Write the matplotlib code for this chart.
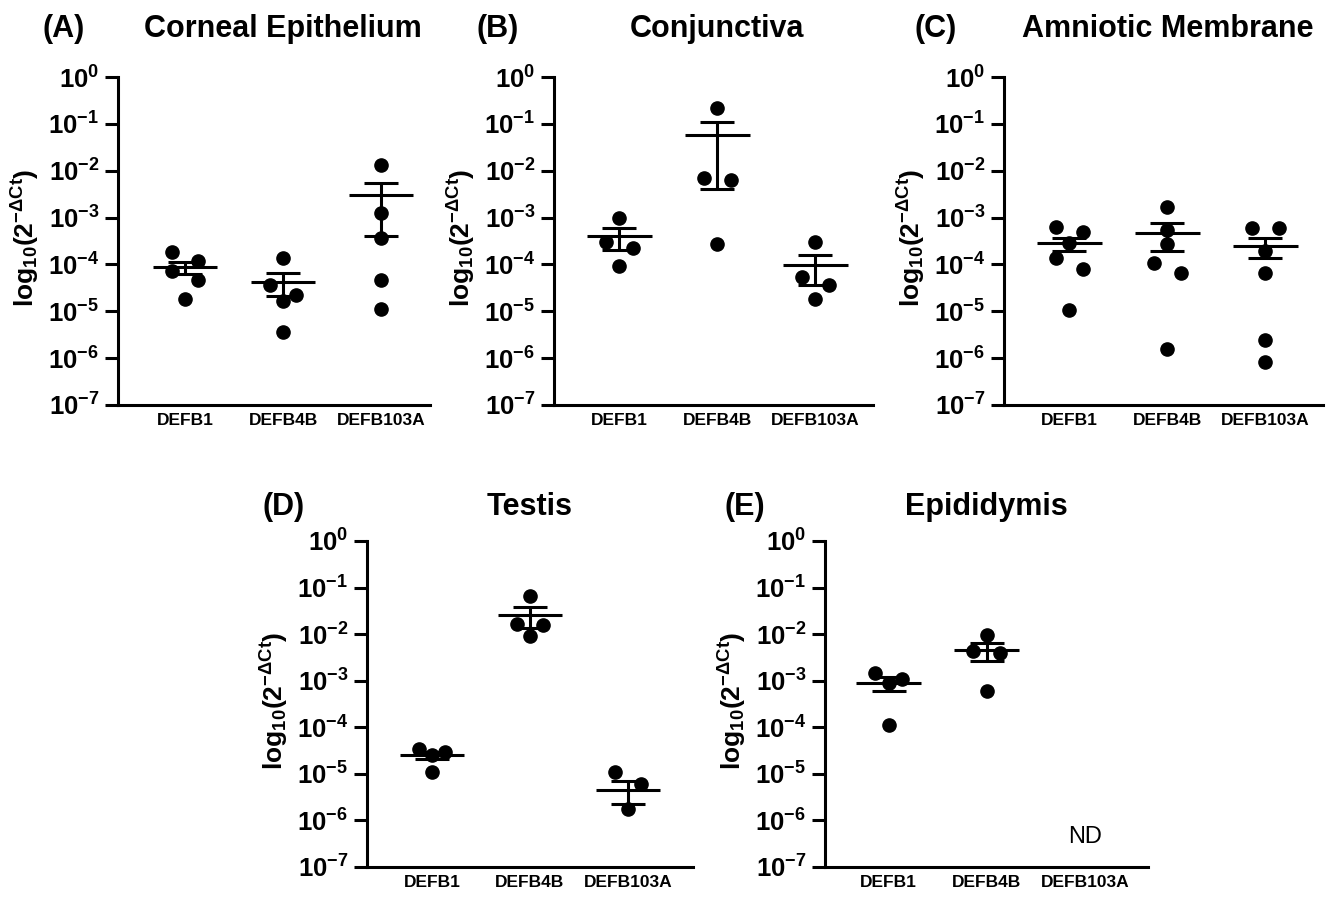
import numpy as np
import matplotlib
matplotlib.use("Agg")
from matplotlib import pyplot as plt
from matplotlib import transforms
from matplotlib.ticker import FixedLocator, FixedFormatter, NullLocator

plt.rcParams['font.family'] = ['Liberation Sans', 'DejaVu Sans']
plt.rcParams['mathtext.fontset'] = 'custom'
plt.rcParams['mathtext.rm'] = 'Liberation Sans'
plt.rcParams['mathtext.bf'] = 'Liberation Sans:bold'
plt.rcParams['mathtext.it'] = 'Liberation Sans:italic'

genes = ["DEFB1", "DEFB4B", "DEFB103A"]

# (A) Corneal Epithelium - 2^-dCt per donor
cornea_pts = [[1.86e-4, 1.2e-4, 7.4e-5, 4.7e-5, 1.85e-5],
              [1.36e-4, 3.7e-5, 2.24e-5, 1.66e-5, 3.6e-6],
              [1.33e-2, 1.24e-3, 3.6e-4, 4.7e-5, 1.13e-5]]
cornea_mean = [8.8e-5, 4.3e-5, 3.0e-3]
cornea_sem = [2.4e-5, 2.2e-5, 2.6e-3]

# (B) Conjunctiva
conj_pts = [[9.8e-4, 2.94e-4, 2.2e-4, 9.1e-5],
            [0.215, 6.9e-3, 6.3e-3, 2.7e-4],
            [2.94e-4, 5.3e-5, 3.7e-5, 1.85e-5]]
conj_mean = [3.96e-4, 0.058, 9.8e-5]
conj_sem = [1.9e-4, 0.054, 6.2e-5]

# (C) Amniotic Membrane
amnio_pts = [[6.2e-4, 4.9e-4, 2.8e-4, 1.35e-4, 7.9e-5, 1.07e-5],
             [1.66e-3, 5.5e-4, 2.7e-4, 1.07e-4, 6.5e-5, 1.6e-6],
             [6.1e-4, 6.1e-4, 1.9e-4, 6.5e-5, 2.46e-6, 8.1e-7]]
amnio_mean = [2.8e-4, 4.7e-4, 2.5e-4]
amnio_sem = [9e-5, 2.8e-4, 1.15e-4]

# (D) Testis
testis_pts = [[3.5e-5, 2.95e-5, 2.5e-5, 1.07e-5],
              [0.065, 0.0162, 0.0155, 9.1e-3],
              [1.1e-5, 6.2e-6, 1.78e-6]]
testis_mean = [2.5e-5, 0.026, 4.6e-6]
testis_sem = [4.5e-6, 0.0125, 2.4e-6]

# (E) Epididymis - DEFB103A not detected
epi_pts = [[1.47e-3, 1.1e-3, 9.1e-4, 1.14e-4],
           [9.4e-3, 4.3e-3, 3.95e-3, 6.0e-4],
           []]
epi_mean = [9.0e-4, 4.5e-3, None]
epi_sem = [2.9e-4, 1.8e-3, None]

decades = list(range(-7, 1))

W, H = 1339, 899
fig = plt.figure(figsize=(W / 100, H / 100), dpi=100, facecolor='white')


def row_offsets(vals, thr=0.3, step=0.135):
    # prism-like spreading: points closer than a marker in log-space share a row
    logs = np.log10(vals)
    order = np.argsort(-logs, kind='stable')
    offs = np.zeros(len(vals))
    patterns = {1: [0], 2: [-1, 1], 3: [-1, 1, 0], 4: [-1.5, 1.5, -0.5, 0.5]}

    def flush(row):
        pat = patterns.get(len(row), [k - (len(row) - 1) / 2 for k in range(len(row))])
        for k, j in enumerate(row):
            offs[j] = pat[k] * step

    row = []
    for idx in order:
        if row and logs[row[0]] - logs[idx] >= thr:
            flush(row)
            row = []
        row.append(idx)
    if row:
        flush(row)
    return offs


def panel(box, xleft, letter, letter_x, title, pts, mean, sem, baseline):
    x0, x1, ytop, ybot = box
    ax = fig.add_axes([x0 / W, 1 - ybot / H, (x1 - x0) / W, (ybot - ytop) / H])
    ax.set_yscale('log')
    ax.set_ylim(1e-7, 1)
    ax.set_xlim(xleft, xleft + (x1 - x0) / 98.0)

    for i, vals in enumerate(pts):
        if len(vals) == 0:
            continue
        xs = i + row_offsets(vals)
        ax.plot(xs, vals, 'o', color='black', ms=9.5, zorder=3, clip_on=False)
        ax.hlines(mean[i], i - 0.33, i + 0.33, color='black', lw=2.2, zorder=2)
        ax.errorbar(i, mean[i], yerr=sem[i], fmt='none', ecolor='black',
                    elinewidth=2.2, capsize=12, capthick=2.2, zorder=2)

    for s in ['top', 'right']:
        ax.spines[s].set_visible(False)
    for s in ['left', 'bottom']:
        ax.spines[s].set_linewidth(2.2)

    ax.yaxis.set_major_locator(FixedLocator([10.0 ** d for d in decades]))
    ax.yaxis.set_major_formatter(FixedFormatter([r'$\mathbf{10^{%d}}$' % d for d in decades]))
    ax.yaxis.set_minor_locator(NullLocator())
    ax.tick_params(axis='y', length=9.5, width=2.2, pad=4, labelsize=18.5)

    ax.set_xticks(range(len(genes)))
    ax.set_xticklabels(genes, fontsize=12.5, fontweight='bold')
    ax.tick_params(axis='x', length=0, pad=6)

    ax.set_ylabel(r'$\mathbf{log_{10}(2^{-\Delta Ct})}$', fontsize=19)
    ax.yaxis.set_label_coords(-76 / (x1 - x0), 0.51)

    tr = transforms.blended_transform_factory(ax.transData, fig.transFigure)
    ax.text(1, 1 - baseline / H, title, transform=tr, ha='center', va='baseline',
            fontsize=22, fontweight='bold')
    fig.text(letter_x / W, 1 - baseline / H, letter, ha='left', va='baseline',
             fontsize=22, fontweight='bold')
    return ax


panel((118, 430, 77, 405), -0.684, "(A)", 43, "Corneal Epithelium",
      cornea_pts, cornea_mean, cornea_sem, 37)
panel((554, 873, 77, 405), -0.667, "(B)", 477, "Conjunctiva",
      conj_pts, conj_mean, conj_sem, 37)
panel((1004, 1323, 77, 405), -0.667, "(C)", 915, "Amniotic Membrane",
      amnio_pts, amnio_mean, amnio_sem, 37)
panel((367, 693, 541, 867), -0.663, "(D)", 263, "Testis",
      testis_pts, testis_mean, testis_sem, 515)
ax_e = panel((825, 1148, 541, 867), -0.65, "(E)", 725, "Epididymis",
             epi_pts, epi_mean, epi_sem, 515)
ax_e.text(2, 10 ** -6.36, "ND", ha='center', va='center', fontsize=17)

fig.savefig("out.png", dpi=100, facecolor='white')
plt.close(fig)
